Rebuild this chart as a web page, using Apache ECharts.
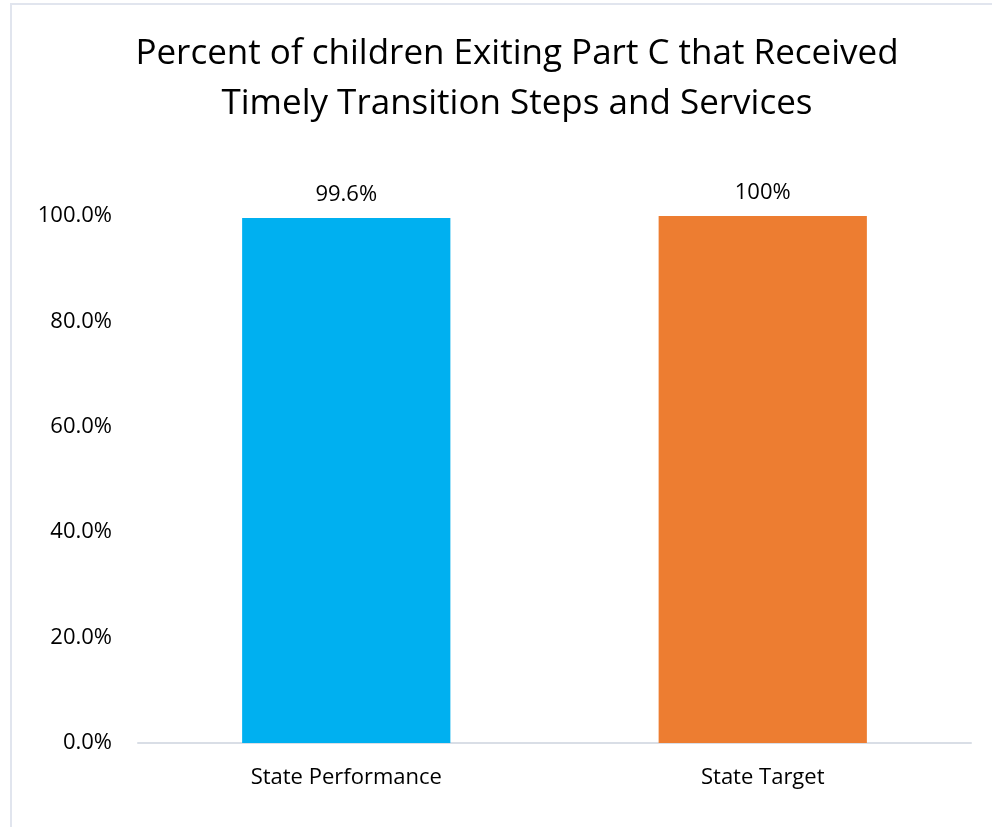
<!DOCTYPE html>
<html>
<head>
<meta charset="utf-8">
<script src="https://cdn.jsdelivr.net/npm/echarts@6/dist/echarts.min.js"></script>
<style>
  html, body { margin: 0; padding: 0; background: #fff; }
  #frame {
    position: absolute; left: 10px; top: 3px; width: 990px; height: 830px;
    border-left: 2px solid #e1e5ee; border-top: 2px solid #e1e5ee;
  }
  #chart { position: absolute; left: 0; top: 0; width: 992px; height: 827px; }
</style>
</head>
<body>
<div id="frame"></div>
<div id="chart"></div>
<script>
const categories = ['State Performance', 'State Target']
const values = [99.6, 100]
const valueLabels = ['99.6%', '100%']
const barColors = ['#00b0f0', '#ed7d31']
const yTicks = [0, 20, 40, 60, 80, 100]

const FONT = '"Open Sans", "Noto Sans", sans-serif'

const chart = echarts.init(document.getElementById('chart'))

chart.setOption({
  animation: false,
  title: {
    text: 'Percent of children Exiting Part C that Received\nTimely Transition Steps and Services',
    left: 512,
    textAlign: 'center',
    top: 24,
    textStyle: { fontFamily: FONT, fontSize: 35, fontWeight: 'normal', color: '#000', lineHeight: 50 }
  },
  grid: { left: 138, right: 21, top: 216, bottom: 84, containLabel: false },
  xAxis: {
    type: 'category',
    data: categories,
    axisLine: { lineStyle: { color: '#d9dee6', width: 2 } },
    axisTick: { show: false },
    axisLabel: { fontFamily: FONT, fontSize: 22, color: '#000', margin: 24 }
  },
  yAxis: {
    type: 'value',
    min: 0,
    max: 100,
    interval: 20,
    splitLine: { show: false },
    axisLine: { show: false },
    axisTick: { show: false },
    axisLabel: {
      fontFamily: FONT, fontSize: 22, color: '#000', margin: 26,
      formatter: v => yTicks.includes(v) ? v.toFixed(1) + '%' : ''
    }
  },
  series: [{
    type: 'bar',
    barWidth: '50%',
    data: values.map((v, i) => ({ value: v, itemStyle: { color: barColors[i] } })),
    label: {
      show: true,
      position: 'top',
      distance: 12,
      fontFamily: FONT,
      fontSize: 22,
      color: '#000',
      formatter: p => valueLabels[p.dataIndex]
    }
  }]
})
</script>
</body>
</html>
